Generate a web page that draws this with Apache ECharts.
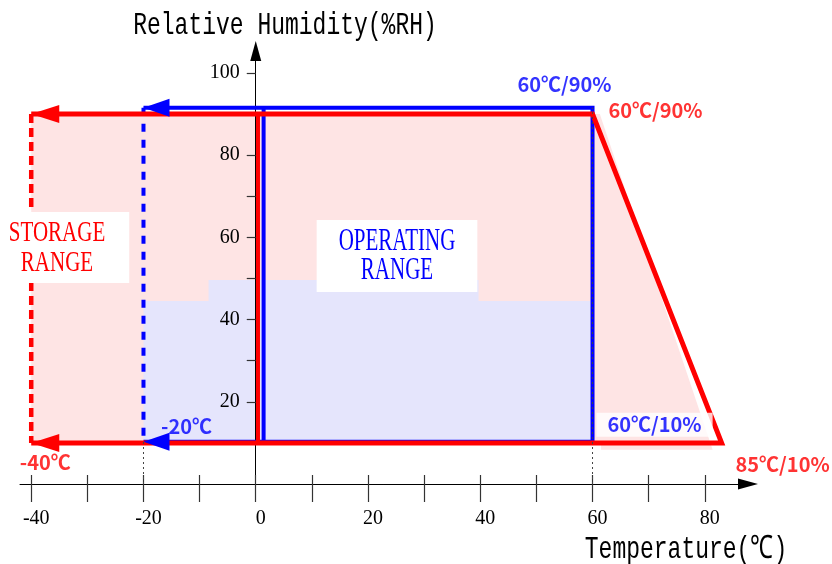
<!DOCTYPE html>
<html><head><meta charset="utf-8">
<script src="https://cdn.jsdelivr.net/npm/echarts@6/dist/echarts.min.js"></script>
<style>html,body{margin:0;padding:0;background:#fff}#c{width:832px;height:564px}</style>
</head><body><div id="c"></div>
<script>
// ---- axis ticks / labels ----
const xTickValues = [-40, -30, -20, -10, 0, 10, 20, 30, 40, 50, 60, 70, 80];
const xLabelValues = [-40, -20, 0, 20, 40, 60, 80];
const yTickValues = [10, 20, 30, 40, 50, 60, 70, 80, 90, 100];
const yLabelValues = [20, 40, 60, 80, 100];
const xAxisTitle = 'Temperature(℃)';
const yAxisTitle = 'Relative Humidity(%RH)';

// ---- storage range (red) ----
const storageOutline = [[-40, 90], [60, 90], [83, 10], [-40, 10]];
const storageLeftEdge = [[-40, 90], [-40, 10]];
const storageZeroEdge = [[0.4, 90], [0.4, 10]];
const storageFill = [[-40, 90], [61.3, 90], [81.4, 8.3], [61.5, 8.3], [61.5, 10], [-40, 10]];
const storageArrowTips = [[-40, 90], [-40, 10]];

// ---- operating range (blue) ----
const operatingOutline = [[-20, 91.5], [60, 91.5], [60, 10.3], [-20, 10.3]];
const operatingLeftEdge = [[-20, 91.5], [-20, 10.3]];
const operatingZeroEdge = [[1.4, 91.5], [1.4, 10.3]];
const operatingFill = [[-20, 10], [-20, 44.5], [-8.4, 44.5], [-8.4, 49.6], [39.7, 49.6], [39.7, 44.5], [60, 44.5], [60, 10]];
const operatingArrowTips = [[-20, 91.5], [-20, 10.3]];

// ---- dotted guides ----
const guideMinus20 = [[-20, 0], [-20, 10.3]];
const guide60 = [[60, 0], [60, 91.5]];

// ---- annotations ----
const redNoteTexts = ['60℃/90%', '85℃/10%', '-40℃'];
const redNotePoints = [[60, 90], [83, 10], [-40, 10]];
const blueNoteTexts = ['60℃/90%', '60℃/10%', '-20℃'];
const blueNotePoints = [[60, 91.5], [60, 10.3], [-20, 10.3]];
const storageTitle = 'STORAGE\nRANGE';
const operatingTitle = 'OPERATING\nRANGE';

const RED = '#ff0000', BLUE = '#0000ff';
const PINK = '#fee4e4', LAV = '#e5e5fc';
const NOTE_FONT = '"Noto Sans CJK JP", "Noto Sans", sans-serif';
const MONO = '"Liberation Mono", "DejaVu Sans Mono", monospace';
const SERIF = '"Liberation Serif", "DejaVu Serif", serif';

const redNoteOffsets = [[63, -4], [61, 22], [14, 20]];
const blueNoteOffsets = [[-28, -23], [62, -17], [43, -15]];

const X_MIN = -42, X_MAX = 87.7;
const GRID = { left: 20, right: 84, top: 51, bottom: 80 };

function fillSeries(points, color, z) {
  return {
    type: 'custom', coordinateSystem: 'cartesian2d', data: points, z, silent: true,
    encode: { x: 0, y: 1 },
    renderItem(params, api) {
      if (params.dataIndex !== 0) return null;
      return { type: 'polygon', shape: { points: points.map(p => api.coord(p)) }, style: { fill: color } };
    }
  };
}
function lineSeries(points, color, width, type, z) {
  return {
    type: 'line', data: points, symbol: 'none', z, silent: true, clip: false,
    lineStyle: { color, width, type, cap: 'butt', join: 'miter' }
  };
}
function arrowSeries(points, color, size, z) {
  return {
    type: 'scatter', data: points, symbol: 'triangle', symbolSize: size, symbolRotate: 90,
    symbolOffset: [size[1] / 2, 0], itemStyle: { color, opacity: 1 }, z, silent: true
  };
}
function noteSeries(texts, points, offsets, color, z, boxed) {
  return {
    type: 'scatter', z, silent: true, symbolSize: 1, itemStyle: { color: 'rgba(0,0,0,0)' },
    data: points.map((p, i) => ({
      value: p, name: texts[i],
      label: Object.assign({ offset: offsets[i] }, boxed && boxed[i] ? { backgroundColor: '#fff', padding: [2, 11, 2, 11] } : {})
    })),
    label: { show: true, position: 'inside', formatter: '{b}', color, fontFamily: NOTE_FONT, fontSize: 20, fontWeight: 'bold' }
  };
}

// pixel distance from grid's left edge to the x = 0 line (y axis sits on 0 °C)
const plotWidth = 832 - GRID.left - GRID.right;
const yAxisShift = (0 - X_MIN) / (X_MAX - X_MIN) * plotWidth;

const option = {
  animation: false,
  backgroundColor: '#fff',
  grid: Object.assign({ containLabel: false, outerBoundsMode: 'none' }, GRID),
  xAxis: [{
    type: 'value', min: X_MIN, max: X_MAX, z: 3,
    axisLine: { show: true, onZero: false, symbol: ['none', 'triangle'], symbolSize: [11, 20], lineStyle: { color: '#000', width: 1 } },
    axisTick: { show: true, customValues: xTickValues, length: 18, lineStyle: { color: '#333', width: 1.2 } },
    axisLabel: { show: true, customValues: xLabelValues, margin: 25, fontFamily: SERIF, fontSize: 20, color: '#000', padding: [0, 0, 0, 10] },
    splitLine: { show: false }
  }, {
    type: 'value', min: X_MIN, max: X_MAX, position: 'bottom', z: 3,
    axisLine: { show: false, onZero: false },
    axisTick: { show: true, inside: true, customValues: xTickValues, length: 9, lineStyle: { color: '#333', width: 1.2 } },
    axisLabel: { show: false }, splitLine: { show: false }
  }],
  yAxis: [{
    type: 'value', min: 0, max: 105.3, position: 'left', offset: -yAxisShift, z: 3,
    axisLine: { show: true, onZero: false, symbol: ['none', 'triangle'], symbolSize: [11, 20], lineStyle: { color: '#000', width: 1 } },
    axisTick: { show: true, customValues: yTickValues, length: 9, lineStyle: { color: '#333', width: 1.2 } },
    axisLabel: { show: true, customValues: yLabelValues, margin: 16, fontFamily: SERIF, fontSize: 20, color: '#000', padding: [0, 0, 8, 0] },
    splitLine: { show: false }
  }],
  series: [
    fillSeries(storageFill, PINK, 1),
    fillSeries(operatingFill, LAV, 2),
    lineSeries(operatingOutline, BLUE, 4, 'solid', 4),
    lineSeries(operatingZeroEdge, BLUE, 4, 'solid', 4),
    lineSeries(operatingLeftEdge, BLUE, 4, [8, 8], 4),
    lineSeries(storageOutline, RED, 5, 'solid', 5),
    lineSeries(storageZeroEdge, RED, 4, 'solid', 5),
    lineSeries(storageLeftEdge, RED, 4.5, [9, 5], 5),
    lineSeries(guideMinus20, '#444', 1, [2, 3], 7),
    lineSeries(guide60, '#444', 1, [2, 3], 7),
    arrowSeries(storageArrowTips, RED, [18, 28], 6),
    arrowSeries(operatingArrowTips, BLUE, [18, 26], 7),
    noteSeries(redNoteTexts, redNotePoints, redNoteOffsets, RED, 8),
    noteSeries(blueNoteTexts, blueNotePoints, blueNoteOffsets, BLUE, 8, [false, true, false])
  ],
  graphic: [
    { type: 'text', x: 285, y: 25, scaleY: 1.4, z: 100, style: { text: yAxisTitle, font: '23px ' + MONO, fill: '#000', align: 'center', verticalAlign: 'middle' } },
    { type: 'text', x: 686, y: 549, scaleY: 1.4, z: 100, style: { text: xAxisTitle, font: '23px ' + MONO, fill: '#000', align: 'center', verticalAlign: 'middle' } },
    { type: 'text', x: 63, y: 212, scaleY: 1.45, z: 100, style: { text: storageTitle, font: '21px ' + SERIF, fill: RED, align: 'center', verticalAlign: 'top', lineHeight: 20.7, backgroundColor: '#fff', padding: [3.8, 24, 3.8, 12] } },
    { type: 'text', x: 397, y: 220, scaleY: 1.5, z: 100, style: { text: operatingTitle, font: '21px ' + SERIF, fill: BLUE, align: 'center', verticalAlign: 'top', lineHeight: 19.5, backgroundColor: '#fff', padding: [4.5, 22, 4.5, 22] } }
  ]
};

const chart = echarts.init(document.getElementById('c'), null, { renderer: 'canvas' });
chart.setOption(option);
</script></body></html>
